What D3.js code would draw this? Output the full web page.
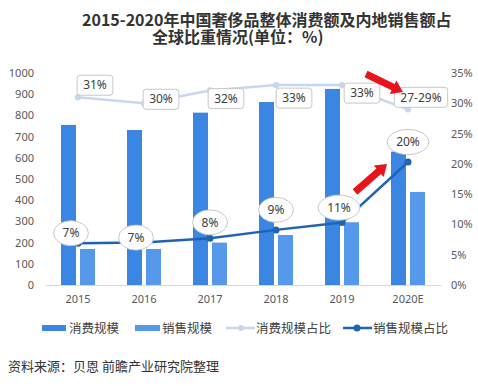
<!DOCTYPE html>
<html><head><meta charset="utf-8">
<script src="https://cdn.jsdelivr.net/npm/d3@7/dist/d3.min.js"></script>
<style>
body{margin:0;background:#fff;}
svg{display:block;font-family:"Noto Sans CJK SC","Noto Sans",sans-serif;}
</style></head>
<body><svg id="c" width="478" height="386"></svg>
<script>
const categories = ["2015","2016","2017","2018","2019","2020E"];
const consumption = [755, 731, 813, 863, 925, 629];
const sales = [170, 170, 200, 236, 296, 439];
const consumptionShare = [0.31, 0.30, 0.321, 0.33, 0.33, 0.29];
const salesShare = [0.069, 0.07, 0.077, 0.091, 0.103, 0.203];
const consumptionShareLabels = ["31%","30%","32%","33%","33%","27-29%"];
const salesShareLabels = ["7%","7%","8%","9%","11%","20%"];
const leftTicks = [0,100,200,300,400,500,600,700,800,900,1000];
const rightTicks = [0,0.05,0.10,0.15,0.20,0.25,0.30,0.35];
const seriesNames = ["消费规模","销售规模","消费规模占比","销售规模占比"];

const C1="#3a86e2", C2="#5699ea", L1="#c7d7ef", L2="#1f63b6";
const svg = d3.select("#c");

// title (one text element, two lines)
const title = svg.append("text").attr("font-weight","bold").attr("fill","#333").attr("font-size","16px");
title.append("tspan").attr("x",82).attr("y",26).text("2015-2020年中国奢侈品整体消费额及内地销售额占");
title.append("tspan").attr("x",152).attr("y",43).text("全球比重情况(单位：%)");

const x = d3.scaleBand().domain(categories).range([45,441]);
const xs = d3.scaleBand().domain(["a","b"]).range([0,x.bandwidth()]).paddingInner(0.21).paddingOuter(0.842);
const yL = d3.scaleLinear().domain([0,1000]).range([285,73]);
const yR = d3.scaleLinear().domain([0,0.35]).range([285,73]);

const tickFont = "'Noto Sans','DejaVu Sans',sans-serif";
// axes
const axL = svg.append("g").attr("transform","translate(34,0)")
  .call(d3.axisLeft(yL).tickValues(leftTicks).tickSize(0).tickPadding(0).tickFormat(d3.format("d")));
axL.select(".domain").remove();
axL.selectAll("text").attr("font-size","11px").attr("fill","#595959").attr("font-family",tickFont);

const axR = svg.append("g").attr("transform","translate(451,0)")
  .call(d3.axisRight(yR).tickValues(rightTicks).tickSize(0).tickPadding(0).tickFormat(d3.format(".0%")));
axR.select(".domain").remove();
axR.selectAll("text").attr("font-size","11px").attr("fill","#595959").attr("font-family",tickFont);

const axB = svg.append("g").attr("transform","translate(0,285)")
  .call(d3.axisBottom(x).tickSize(0).tickPadding(10));
axB.select(".domain").attr("stroke","#d9d9d9");
axB.selectAll("text").attr("font-size","11px").attr("fill","#595959").attr("font-family",tickFont);

// bars
svg.append("g").selectAll("rect").data(consumption).join("rect")
  .attr("x",(d,i)=>x(categories[i])+xs("a")).attr("width",xs.bandwidth())
  .attr("y",d=>yL(d)).attr("height",d=>yL(0)-yL(d)).attr("fill",C1);
svg.append("g").selectAll("rect").data(sales).join("rect")
  .attr("x",(d,i)=>x(categories[i])+xs("b")).attr("width",xs.bandwidth())
  .attr("y",d=>yL(d)).attr("height",d=>yL(0)-yL(d)).attr("fill",C2);

const cx = c => x(c)+x.bandwidth()/2;
const line = d3.line().x((d,i)=>cx(categories[i])).y(d=>yR(d));

// light line
svg.append("path").datum(consumptionShare).attr("d",line).attr("fill","none").attr("stroke",L1).attr("stroke-width",2.5);
svg.append("g").selectAll("circle").data(consumptionShare).join("circle")
  .attr("cx",(d,i)=>cx(categories[i])).attr("cy",d=>yR(d)).attr("r",3.2).attr("fill",L1);

// dark line
svg.append("path").datum(salesShare).attr("d",line).attr("fill","none").attr("stroke",L2).attr("stroke-width",2.5);
svg.append("g").selectAll("circle").data(salesShare).join("circle")
  .attr("cx",(d,i)=>cx(categories[i])).attr("cy",d=>yR(d)).attr("r",3.5).attr("fill",L2);

// label offsets (layout only)
const offC = [[17,-12],[17,-4],[16,8],[18,13],[20,8],[13,-12]];
const offS = [[-7,-10],[-8,-5],[0,-16],[0,-20],[-3,-15],[0,-20]];

const lblC = svg.append("g");
consumptionShare.forEach((d,i)=>{
  const px = cx(categories[i])+offC[i][0], py = yR(d)+offC[i][1];
  const g = lblC.append("g");
  const t = g.append("text").attr("x",px).attr("y",py+4.2).attr("text-anchor","middle")
    .attr("font-size","12px").attr("fill","#404040").attr("font-family",tickFont).text(consumptionShareLabels[i]);
  const w = t.node().getComputedTextLength()+12;
  g.insert("rect","text").attr("x",px-w/2).attr("y",py-10).attr("width",w).attr("height",20)
    .attr("rx",3).attr("fill","#fff").attr("stroke","#c8c8c8").attr("stroke-width",1);
});

const lblS = svg.append("g");
salesShare.forEach((d,i)=>{
  const px = cx(categories[i])+offS[i][0], py = yR(d)+offS[i][1];
  const g = lblS.append("g");
  const t = g.append("text").attr("x",px).attr("y",py+4.2).attr("text-anchor","middle")
    .attr("font-size","12px").attr("fill","#404040").attr("font-family",tickFont).text(salesShareLabels[i]);
  const w = t.node().getComputedTextLength();
  g.insert("ellipse","text").attr("cx",px).attr("cy",py).attr("rx",w/2+9).attr("ry",12.5)
    .attr("fill","#fff").attr("stroke","#c8c8c8").attr("stroke-width",1);
});

// red arrows
function arrow(x1,y1,x2,y2){
  const a = Math.atan2(y2-y1,x2-x1), L = Math.hypot(x2-x1,y2-y1);
  const hl = 11, hw = 7.5, sw = 3.5;
  const g = svg.append("g").attr("transform",`translate(${x1},${y1}) rotate(${a*180/Math.PI})`);
  g.append("path").attr("fill","#e8141b")
    .attr("d",`M0,${-sw} L${L-hl},${-sw} L${L-hl},${-hw} L${L},0 L${L-hl},${hw} L${L-hl},${sw} L0,${sw} Z`);
}
arrow(366,74,403,92);
arrow(355,192,387,164);

// legend
const lg = svg.append("g").attr("font-size","12.5px").attr("fill","#404040");
lg.append("rect").attr("x",42).attr("y",325).attr("width",24).attr("height",6).attr("fill",C1);
lg.append("text").attr("x",69).attr("y",333).text(seriesNames[0]);
lg.append("rect").attr("x",135).attr("y",325).attr("width",25).attr("height",6).attr("fill",C2);
lg.append("text").attr("x",162).attr("y",333).text(seriesNames[1]);
lg.append("line").attr("x1",226).attr("x2",255).attr("y1",328).attr("y2",328).attr("stroke",L1).attr("stroke-width",2.5);
lg.append("circle").attr("cx",241).attr("cy",328).attr("r",3).attr("fill",L1);
lg.append("text").attr("x",256).attr("y",333).text(seriesNames[2]);
lg.append("line").attr("x1",343).attr("x2",372).attr("y1",328).attr("y2",328).attr("stroke",L2).attr("stroke-width",2.5);
lg.append("circle").attr("cx",357).attr("cy",328).attr("r",3.5).attr("fill",L2);
lg.append("text").attr("x",373).attr("y",333).text(seriesNames[3]);

// source
svg.append("text").attr("x",8).attr("y",371).attr("font-size","13px").attr("fill","#333")
  .text("资料来源：贝恩 前瞻产业研究院整理");
</script></body></html>
